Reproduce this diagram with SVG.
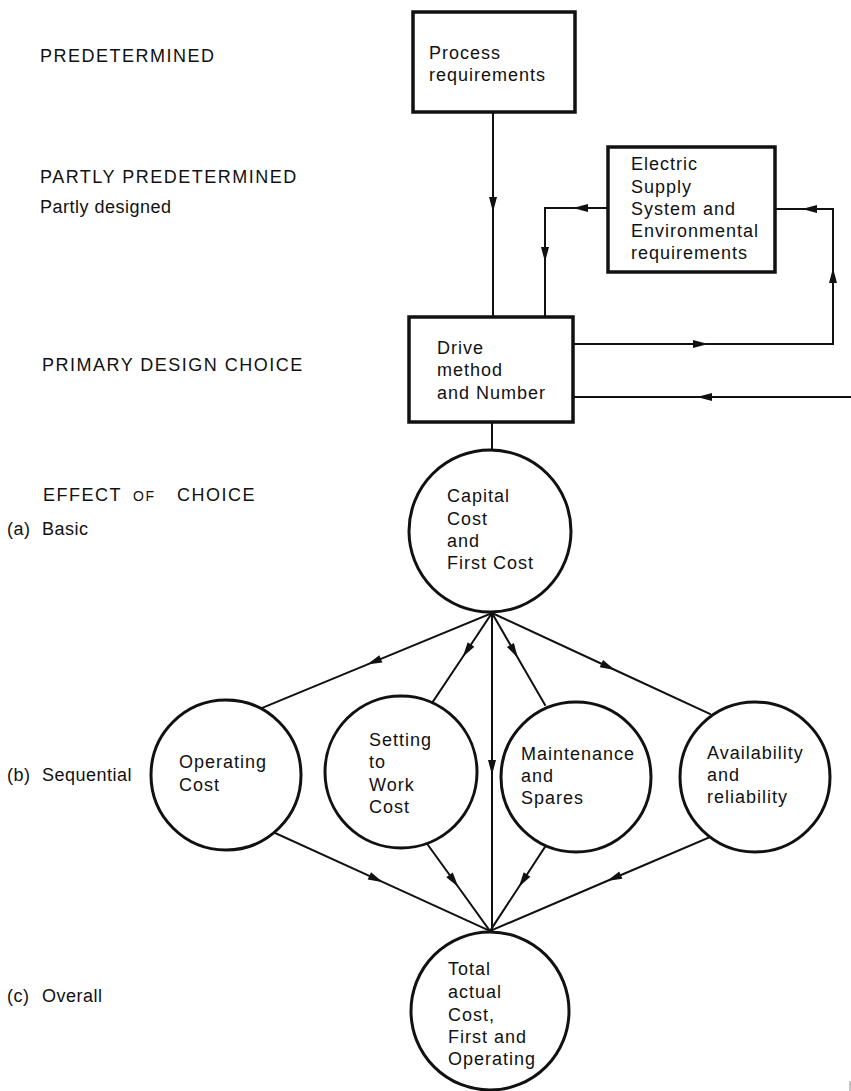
<svg xmlns="http://www.w3.org/2000/svg" width="851" height="1091" viewBox="0 0 851 1091">
  <style>
    text { font-family: "Liberation Sans", Arial, sans-serif; fill: #111; }
    .lbl { font-size: 18px; letter-spacing: 1.5px; }
    .sub { font-size: 18px; letter-spacing: 0.5px; }
    .node { font-size: 18px; letter-spacing: 1px; }
    .box { fill: #fff; stroke: #111; stroke-width: 3.5; }
    .circ { fill: #fff; stroke: #111; stroke-width: 3; }
    .conn path { fill: none; stroke: #111; stroke-width: 2; stroke-linecap: square; marker-mid: url(#ah); }
    .conn path.plain { marker-mid: none; }
  </style>
  <defs>
    <marker id="ah" markerUnits="userSpaceOnUse" markerWidth="18" markerHeight="10" viewBox="-16 -5 18 10" refX="0" refY="0" orient="auto">
      <path d="M0,0 L-15,-4 L-15,4 Z" fill="#111"/>
    </marker>
  </defs>
  <rect width="851" height="1091" fill="#fff"/>

  <!-- level labels -->
  <g id="labels">
    <text class="lbl" x="40" y="62">PREDETERMINED</text>
    <text class="lbl" x="40" y="183">PARTLY PREDETERMINED</text>
    <text class="sub" x="40" y="213">Partly designed</text>
    <text class="lbl" x="42" y="371">PRIMARY DESIGN CHOICE</text>
    <text class="lbl" y="501"><tspan x="43">EFFECT</tspan><tspan x="133" font-size="14">OF</tspan><tspan x="177">CHOICE</tspan></text>
    <text class="sub" y="535"><tspan x="7">(a)</tspan><tspan x="42">Basic</tspan></text>
    <text class="sub" y="781"><tspan x="7">(b)</tspan><tspan x="42">Sequential</tspan></text>
    <text class="sub" y="1002"><tspan x="7">(c)</tspan><tspan x="42">Overall</tspan></text>
  </g>

  <!-- connectors -->
  <g id="connectors" class="conn">
    <path d="M493,112 L493,212 L493,317"/>
    <path d="M608,208 L573,208 L545,208"/>
    <path d="M545,208 L545,262 L545,317"/>
    <path d="M573,344 L708,344 L833,344"/>
    <path d="M833,344 L833,268 L833,209"/>
    <path d="M833,209 L802,209 L775,209"/>
    <path d="M851,397 L697,397 L573,397"/>
    <path class="plain" d="M492,422 L492,450"/>
    <path d="M492,613 L367,664.6 L262,708"/>
    <path d="M492,613 L462.7,657 L432,703"/>
    <path d="M492,613 L492,775 L492,933"/>
    <path d="M492,613 L517.9,658 L545,705"/>
    <path d="M492,613 L615,670 L710,714"/>
    <path d="M275,833 L383,882.2 L490,931"/>
    <path d="M428,845 L458.3,887 L490,931"/>
    <path d="M545,847 L518.8,887 L490,931"/>
    <path d="M710,837 L607,881 L490,931"/>
  </g>

  <g id="process">
    <rect class="box" x="413" y="12" width="162" height="100"/>
    <text class="node" x="429" y="59">Process</text>
    <text class="node" x="429" y="81">requirements</text>
  </g>

  <g id="electric">
    <rect class="box" x="608" y="147" width="167" height="125"/>
    <text class="node" x="631" y="170">Electric</text>
    <text class="node" x="631" y="193">Supply</text>
    <text class="node" x="631" y="215">System and</text>
    <text class="node" x="631" y="237">Environmental</text>
    <text class="node" x="631" y="259">requirements</text>
  </g>

  <g id="drive">
    <rect class="box" x="409" y="317" width="164" height="105"/>
    <text class="node" x="437" y="354">Drive</text>
    <text class="node" x="437" y="376">method</text>
    <text class="node" x="437" y="399">and Number</text>
  </g>

  <g id="capital">
    <circle class="circ" cx="490" cy="531" r="81"/>
    <text class="node" x="447" y="502">Capital</text>
    <text class="node" x="447" y="525">Cost</text>
    <text class="node" x="447" y="547">and</text>
    <text class="node" x="447" y="569">First Cost</text>
  </g>

  <g id="operating">
    <circle class="circ" cx="226" cy="775" r="75"/>
    <text class="node" x="179" y="768">Operating</text>
    <text class="node" x="179" y="791">Cost</text>
  </g>

  <g id="setting">
    <circle class="circ" cx="401" cy="772" r="76"/>
    <text class="node" x="369" y="746">Setting</text>
    <text class="node" x="369" y="768">to</text>
    <text class="node" x="369" y="791">Work</text>
    <text class="node" x="369" y="813">Cost</text>
  </g>

  <g id="maintenance">
    <circle class="circ" cx="576" cy="777" r="75"/>
    <text class="node" x="521" y="760">Maintenance</text>
    <text class="node" x="521" y="782">and</text>
    <text class="node" x="521" y="804">Spares</text>
  </g>

  <g id="availability">
    <circle class="circ" cx="755" cy="777" r="75"/>
    <text class="node" x="707" y="759">Availability</text>
    <text class="node" x="707" y="781">and</text>
    <text class="node" x="707" y="803">reliability</text>
  </g>

  <g id="total">
    <circle class="circ" cx="490" cy="1011" r="79"/>
    <text class="node" x="448" y="975">Total</text>
    <text class="node" x="448" y="998">actual</text>
    <text class="node" x="448" y="1021">Cost,</text>
    <text class="node" x="448" y="1043">First and</text>
    <text class="node" x="448" y="1065">Operating</text>
  </g>

  <!-- edge mark at lower right -->
  <line x1="850" y1="1081" x2="850" y2="1091" stroke="#888" stroke-width="1"/>
</svg>
